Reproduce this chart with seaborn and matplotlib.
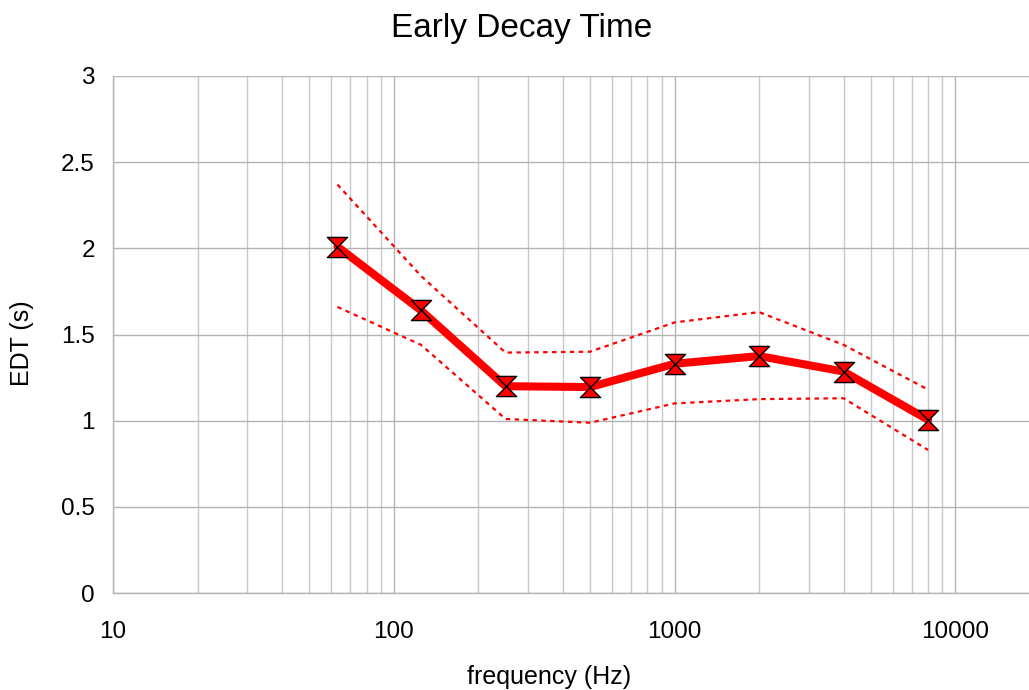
import numpy as np
import pandas as pd
import matplotlib
matplotlib.use("Agg")
import matplotlib.pyplot as plt
from matplotlib.path import Path
from matplotlib.ticker import LogLocator, FixedLocator, NullFormatter
import seaborn as sns

freq = [63, 125, 250, 500, 1000, 2000, 4000, 8000]
edt = [2.01, 1.64, 1.20, 1.195, 1.33, 1.375, 1.285, 1.005]
edt_upper = [2.37, 1.84, 1.395, 1.40, 1.57, 1.63, 1.44, 1.18]
edt_lower = [1.66, 1.44, 1.01, 0.988, 1.10, 1.125, 1.13, 0.83]
x_ticks = [10, 100, 1000, 10000]
y_ticks = [0, 0.5, 1, 1.5, 2, 2.5, 3]

sns.set_style("white")
plt.rcParams['font.family'] = ['Liberation Sans', 'DejaVu Sans']
plt.rcParams['text.color'] = 'black'
plt.rcParams['axes.labelcolor'] = 'black'

fig = plt.figure(figsize=(10.29, 6.90), dpi=100)
ax = fig.add_axes([113/1029, 1-593/690, 1-113/1029, (593-76)/690])

df = pd.DataFrame({"freq": freq, "edt": edt, "upper": edt_upper, "lower": edt_lower})

hourglass = Path([(-1, 1), (1, 1), (-1, -1), (1, -1), (-1, 1)],
                 [Path.MOVETO, Path.LINETO, Path.LINETO, Path.LINETO, Path.CLOSEPOLY])

sns.lineplot(data=df, x="freq", y="upper", ax=ax, color="red", lw=1.6,
             linestyle=(0, (2, 2)), zorder=3)
sns.lineplot(data=df, x="freq", y="lower", ax=ax, color="red", lw=1.6,
             linestyle=(0, (2, 2)), zorder=3)
sns.lineplot(data=df, x="freq", y="edt", ax=ax, color="red", lw=5.8,
             marker=hourglass, markersize=14.5, markerfacecolor="red",
             markeredgecolor="black", markeredgewidth=1.0, zorder=4)

ax.set_xscale("log")
ax.set_xlim(10, 18300)
ax.set_ylim(0, 3)
ax.xaxis.set_major_locator(FixedLocator(x_ticks))
ax.xaxis.set_major_formatter(matplotlib.ticker.FuncFormatter(lambda v, p: f"{int(v)}"))
ax.xaxis.set_minor_locator(LogLocator(base=10, subs=np.arange(2, 10)))
ax.xaxis.set_minor_formatter(NullFormatter())
ax.set_yticks(y_ticks)
ax.set_yticklabels(["0", "0.5", "1", "1.5", "2", "2.5", "3"])

ax.grid(True, which="major", axis="both", color="#b3b3b3", lw=1.0, zorder=0)
ax.grid(True, which="minor", axis="x", color="#c8c8c8", lw=1.0, zorder=0)
ax.set_axisbelow(True)

for s in ["top", "right"]:
    ax.spines[s].set_visible(False)
for s in ["left", "bottom"]:
    ax.spines[s].set_color("#b3b3b3")
    ax.spines[s].set_linewidth(1.0)

ax.tick_params(axis="both", which="major", direction="out", length=7, width=1,
               color="#b3b3b3", labelsize=17.5, labelcolor="black")
ax.tick_params(axis="x", which="major", pad=13)
ax.tick_params(axis="x", which="minor", length=0)
ax.tick_params(axis="y", pad=6)

ax.set_xlabel("frequency (Hz)", fontsize=18)
ax.set_ylabel("EDT (s)", fontsize=18)
# place labels relative to the figure pixel grid
w_ax = 1029 - 113
h_ax = 593 - 76
ax.xaxis.set_label_coords((549.5 - 113) / w_ax, -(677 - 593) / h_ax)
ax.xaxis.label.set_va("center")
ax.yaxis.set_label_coords(-(113 - 22) / w_ax, (593 - 343) / h_ax)
ax.yaxis.label.set_va("center")
fig.text(522/1029, 1-28/690, "Early Decay Time", ha="center", va="center", fontsize=24)

fig.savefig("out.png", dpi=100)
